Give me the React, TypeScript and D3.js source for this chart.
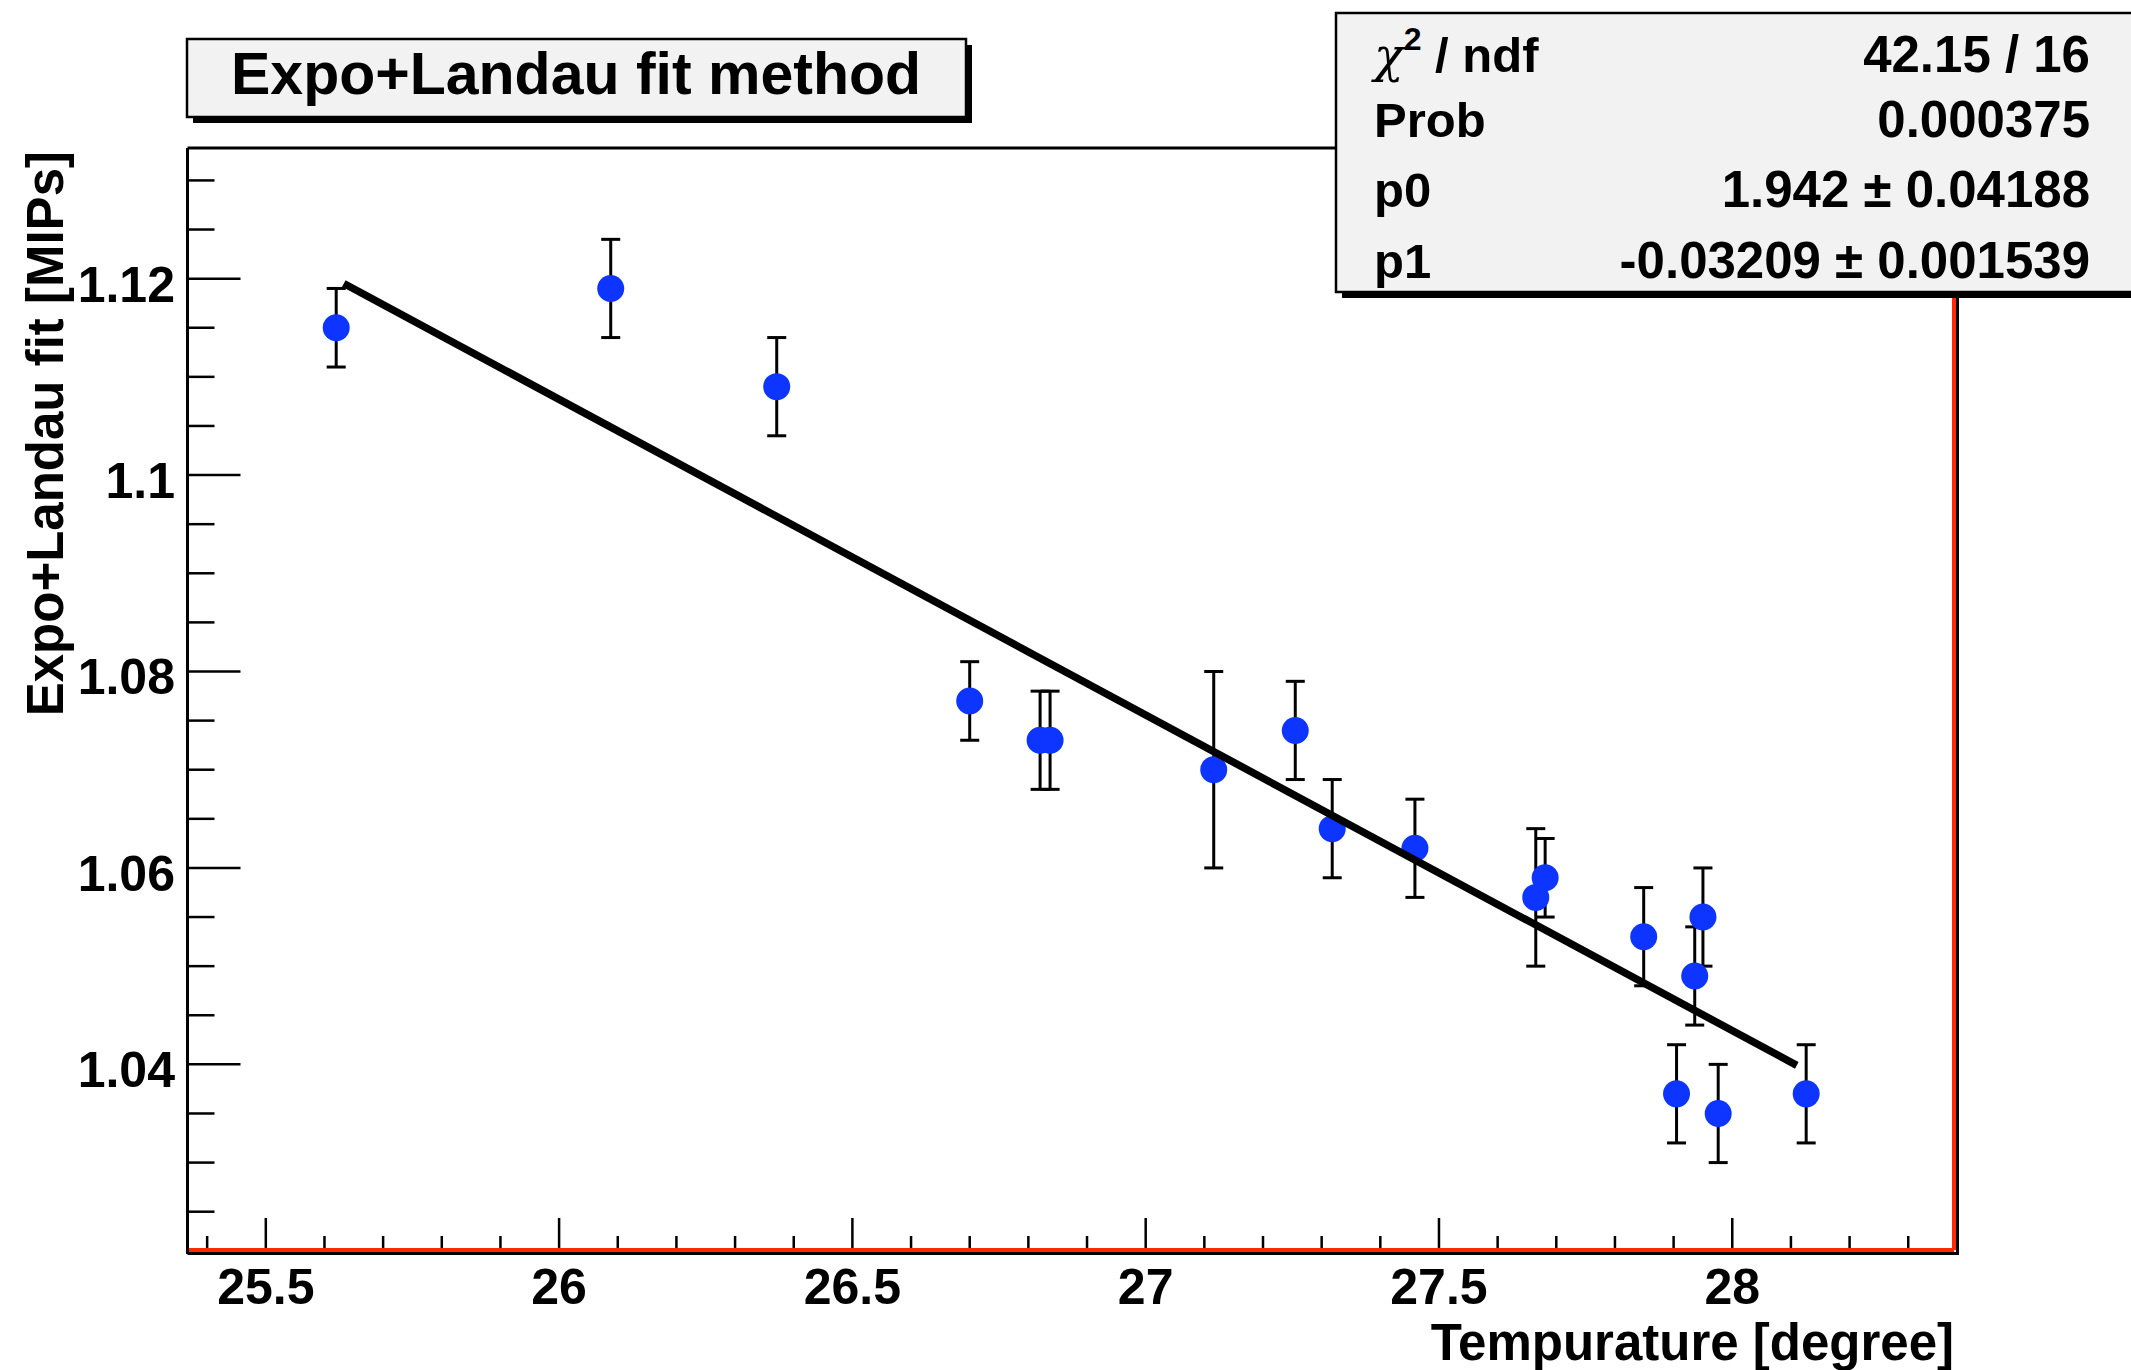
import React from "react";
import * as d3 from "d3";

// ---- data ----
const temperatures = [25.62, 26.088, 26.371, 26.70, 26.82, 26.837, 27.116, 27.255, 27.318, 27.459, 27.665, 27.681, 27.849, 27.905, 27.936, 27.95, 27.976, 28.126];
const fitValues = [1.115, 1.119, 1.109, 1.077, 1.073, 1.073, 1.070, 1.074, 1.064, 1.062, 1.057, 1.059, 1.053, 1.037, 1.049, 1.055, 1.035, 1.037];
const fitErrors = [0.004, 0.005, 0.005, 0.004, 0.005, 0.005, 0.010, 0.005, 0.005, 0.005, 0.007, 0.004, 0.005, 0.005, 0.005, 0.005, 0.005, 0.005];

// fitted straight line (endpoints of the drawn fit function)
const fitLineX = [25.633, 28.11];
const fitLineY = [1.1195, 1.0399];

const xTickLabels = ["25.5", "26", "26.5", "27", "27.5", "28"];
const yTickLabels = ["1.04", "1.06", "1.08", "1.1", "1.12"];

const statLabels = ["χ2 / ndf", "Prob", "p0", "p1"];
const statValues = ["42.15 / 16", "0.000375", "1.942 ± 0.04188", "-0.03209 ± 0.001539"];

const titleText = "Expo+Landau fit method";
const xTitle = "Tempurature [degree]";
const yTitle = "Expo+Landau fit [MIPs]";

const xDomain = [25.3665, 28.378];
const yDomain = [1.0211, 1.1333];

// ---- layout ----
const W = 2131;
const H = 1370;
const F = { left: 187.5, right: 1954, top: 148, bottom: 1250 };
const FONT = "'Liberation Sans', Arial, Helvetica, sans-serif";
const BLUE = "#0d35ff";
const RED = "#ff2a00";

export default function App() {
  const x = d3.scaleLinear().domain(xDomain).range([F.left, F.right]);
  const y = d3.scaleLinear().domain(yDomain).range([F.bottom, F.top]);

  const xMinor = d3.range(254, 284).map((v) => v / 10);
  const yMinor = d3.range(205, 227).map((v) => v / 200);

  const line = d3
    .line<number>()
    .x((_, i) => x(fitLineX[i]))
    .y((d) => y(d));

  return (
    <svg
      width={W}
      height={H}
      style={{ position: "absolute", left: 0, top: 0, display: "block", background: "#fff" }}
      fontFamily={FONT}
      fontWeight="bold"
    >
      <rect x={0} y={0} width={W} height={H} fill="#ffffff" />

      {/* title box */}
      <rect x={193} y={45} width={779} height={78} fill="#000" />
      <rect x={187} y={39} width={779} height={78} fill="#f2f2f2" stroke="#000" strokeWidth={2.5} />
      <text x={576} y={94} fontSize={59} textAnchor="middle" fill="#000">
        {titleText}
      </text>

      {/* frame */}
      <line x1={F.left} y1={F.top} x2={F.right} y2={F.top} stroke="#000" strokeWidth={3} />
      <line x1={F.left} y1={F.top} x2={F.left} y2={F.bottom + 4} stroke="#000" strokeWidth={3} />
      <line x1={F.left} y1={F.bottom + 3.5} x2={F.right + 3.5} y2={F.bottom + 3.5} stroke="#000" strokeWidth={3} />
      <line x1={F.right + 3.5} y1={F.top} x2={F.right + 3.5} y2={F.bottom + 5} stroke="#000" strokeWidth={3} />
      <line x1={F.left + 1.5} y1={F.bottom} x2={F.right} y2={F.bottom} stroke={RED} strokeWidth={4} />
      <line x1={F.right} y1={F.top} x2={F.right} y2={F.bottom} stroke={RED} strokeWidth={4} />

      {/* y ticks */}
      {yMinor.map((v, i) => {
        const major = Math.abs(v * 50 - Math.round(v * 50)) < 1e-6;
        return (
          <line
            key={"ym" + i}
            x1={F.left}
            x2={F.left + (major ? 53 : 27)}
            y1={y(v)}
            y2={y(v)}
            stroke="#000"
            strokeWidth={2.5}
          />
        );
      })}
      {yTickLabels.map((t) => (
        <text key={"yl" + t} x={175} y={y(+t) + 23} fontSize={50} textAnchor="end" fill="#000">
          {t}
        </text>
      ))}

      {/* x ticks */}
      {xMinor.map((v, i) => {
        const major = Math.abs(v * 2 - Math.round(v * 2)) < 1e-6;
        return (
          <line
            key={"xm" + i}
            x1={x(v)}
            x2={x(v)}
            y1={F.bottom - 2}
            y2={F.bottom - (major ? 32 : 14)}
            stroke="#000"
            strokeWidth={2.5}
          />
        );
      })}
      {xTickLabels.map((t) => (
        <text key={"xl" + t} x={x(+t)} y={1304} fontSize={50} textAnchor="middle" fill="#000">
          {t}
        </text>
      ))}

      {/* axis titles */}
      <text x={F.right} y={1360} fontSize={51} textAnchor="end" fill="#000">
        {xTitle}
      </text>
      <text transform={`translate(63, ${F.top + 3}) rotate(-90)`} fontSize={51} textAnchor="end" fill="#000">
        {yTitle}
      </text>

      {/* error bars */}
      {temperatures.map((t, i) => {
        const cx = x(t);
        const y1 = y(fitValues[i] + fitErrors[i]);
        const y2 = y(fitValues[i] - fitErrors[i]);
        return (
          <g key={"e" + i} stroke="#000" strokeWidth={3}>
            <line x1={cx} x2={cx} y1={y1} y2={y2} />
            <line x1={cx - 9.5} x2={cx + 9.5} y1={y1} y2={y1} />
            <line x1={cx - 9.5} x2={cx + 9.5} y1={y2} y2={y2} />
          </g>
        );
      })}

      {/* markers */}
      {temperatures.map((t, i) => (
        <circle key={"p" + i} cx={x(t)} cy={y(fitValues[i])} r={13.5} fill={BLUE} />
      ))}

      {/* fit line */}
      <path d={line(fitLineY) || ""} fill="none" stroke="#000" strokeWidth={7.5} strokeLinecap="butt" />

      {/* stats box */}
      <rect x={1342} y={19} width={820} height={279} fill="#000" />
      <rect x={1336} y={13} width={820} height={279} fill="#f2f2f2" stroke="#000" strokeWidth={2.5} />
      {statLabels.map((lab, i) => {
        const by = [72, 137, 207, 278][i];
        return (
          <g key={"s" + i}>
            {i === 0 ? (
              <text x={1374} y={by} fontSize={49} fill="#000">
                <tspan fontFamily="'DejaVu Serif', serif" fontStyle="italic" fontWeight="normal">χ</tspan>
                <tspan fontSize={32} dy={-22}>2</tspan>
                <tspan dy={22}> / ndf</tspan>
              </text>
            ) : (
              <text x={1374} y={by} fontSize={49} fill="#000">
                {lab}
              </text>
            )}
            <text x={2090} y={by} fontSize={51} textAnchor="end" fill="#000">
              {statValues[i]}
            </text>
          </g>
        );
      })}
    </svg>
  );
}
